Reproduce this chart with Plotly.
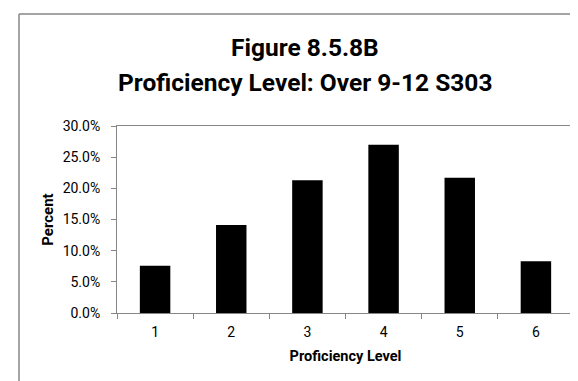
import plotly.graph_objects as go

categories = ["1", "2", "3", "4", "5", "6"]
percents = [0.076, 0.141, 0.213, 0.270, 0.217, 0.083]
y_ticks = [0, 0.05, 0.10, 0.15, 0.20, 0.25, 0.30]
title_line1 = "Figure 8.5.8B"
title_line2 = "Proficiency Level: Over 9-12 S303"
x_title = "Proficiency Level"
y_title = "Percent"

W, H = 578, 381
L, R, T, B = 109, 12, 118, 76
pw, ph = W - L - R, H - T - B

def px_x(px):
    return (px - L) / pw

def px_y(py):
    return (H - B - py) / ph

FONT = "Roboto, Lato, sans-serif"
GRAY = "#868686"

fig = go.Figure(
    go.Bar(
        x=categories,
        y=percents,
        marker=dict(color="black", line=dict(width=0)),
    )
)

fig.update_layout(
    width=W,
    height=H,
    margin=dict(l=L, r=R, t=T, b=B),
    paper_bgcolor="white",
    plot_bgcolor="white",
    bargap=0.6,
    showlegend=False,
    font=dict(family=FONT, color="black", size=14),
)

fig.update_xaxes(
    type="category",
    showline=True,
    linecolor=GRAY,
    linewidth=1,
    mirror=True,
    ticks="outside",
    tickson="boundaries",
    ticklen=5,
    tickcolor=GRAY,
    showgrid=False,
    ticklabelstandoff=6,
    tickfont=dict(family=FONT, size=14, color="black"),
    title=dict(text="<b>" + x_title + "</b>", font=dict(family=FONT, size=14.5, color="black"), standoff=12),
)

fig.update_yaxes(
    range=[0, 0.30],
    tickvals=y_ticks,
    tickformat=".1%",
    showline=True,
    linecolor=GRAY,
    linewidth=1,
    mirror=True,
    ticks="outside",
    ticklen=5,
    tickcolor=GRAY,
    showgrid=False,
    zeroline=False,
    ticklabelstandoff=8,
    tickfont=dict(family=FONT, size=14, color="black"),
    title=dict(text="<b>" + y_title + "</b>", font=dict(family=FONT, size=15, color="black"), standoff=5),
)

fig.add_annotation(
    text="<b>" + title_line1 + "</b>", xref="paper", yref="paper",
    x=px_x(297), y=px_y(39), xanchor="center", yanchor="middle",
    showarrow=False, font=dict(family=FONT, size=24.5, color="black"),
)
fig.add_annotation(
    text="<b>" + title_line2 + "</b>", xref="paper", yref="paper",
    x=px_x(297), y=px_y(74), xanchor="center", yanchor="middle",
    showarrow=False, font=dict(family=FONT, size=24.5, color="black"),
)

# outer chart-area frame (left and top edges visible)
fig.add_shape(
    type="line", xref="paper", yref="paper",
    x0=px_x(11), y0=px_y(395), x1=px_x(11), y1=px_y(6),
    line=dict(color=GRAY, width=1.5),
)
fig.add_shape(
    type="line", xref="paper", yref="paper",
    x0=px_x(11), y0=px_y(6), x1=px_x(590), y1=px_y(6),
    line=dict(color=GRAY, width=1.5),
)

fig.write_html("out.html")
